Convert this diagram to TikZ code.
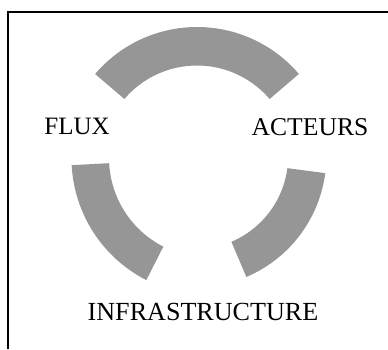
\documentclass[tikz,border=0pt]{standalone}
\usepackage{fontspec}
\setmainfont{Liberation Serif}
\usetikzlibrary{calc}
\definecolor{ringgray}{RGB}{150,150,150}
\tikzset{
  seg/.style={fill=ringgray, draw=none},
  lbl/.style={anchor=base, inner sep=0pt, font=\fontsize{25}{30}\selectfont},
  frameline/.style={line width=2pt, black}
}
\newcommand{\ringseg}[6]{% centre, outer r, inner r, a1, a2
  \fill[seg] ($(#1)+(#4:#2)$) arc[start angle=#4, end angle=#5, radius=#2]
    -- ($(#1)+(#5:#3)$) arc[start angle=#5, end angle=#4, radius=#3] -- cycle;}
\begin{document}
\begin{tikzpicture}[x=1pt,y=1pt]
\useasboundingbox (0,0) rectangle (388,349);
\fill[white] (0,0) rectangle (388,349);
\coordinate (ctop) at (197,188);
\coordinate (cleft) at (208.5,191);
\coordinate (cright) at (195,193);
\coordinate (fa) at (8,0);
\coordinate (fb) at (8,337);
\coordinate (fc) at (388,337);
\draw[frameline] (fa) -- (fb) -- (fc);
\ringseg{ctop}{134pt}{95.5pt}{40.5}{139.5}{}
\ringseg{cleft}{137pt}{99.5pt}{183}{243}{}
\ringseg{cright}{131.4pt}{93.2pt}{-67}{-7.5}{}
\node[lbl] (flux) at (77,214.3) {FLUX};
\node[lbl, font=\fontsize{25.6}{30}\selectfont] (acteurs) at (310,213.5) {ACTEURS};
\node[lbl, font=\fontsize{26.1}{30}\selectfont] (infra) at (203,28.5) {INFRASTRUCTURE};
\end{tikzpicture}
\end{document}
